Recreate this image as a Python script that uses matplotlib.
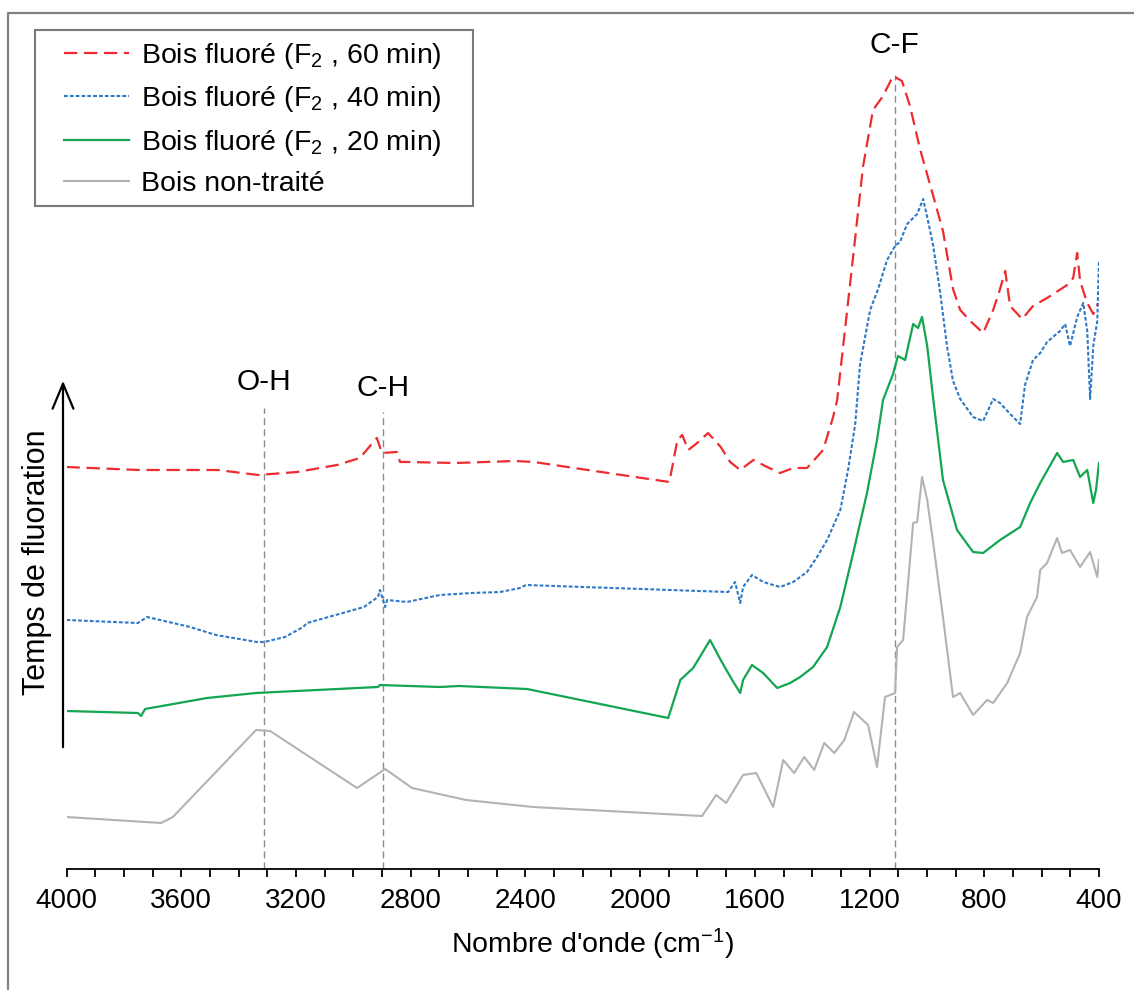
import matplotlib
matplotlib.use("Agg")
import matplotlib.pyplot as plt
from matplotlib.lines import Line2D
from matplotlib.patches import Rectangle, FancyArrowPatch

plt.rcParams['font.family'] = ['Liberation Sans', 'DejaVu Sans']
plt.rcParams['mathtext.fontset'] = 'custom'
plt.rcParams['mathtext.rm'] = 'Liberation Sans'
plt.rcParams['mathtext.it'] = 'Liberation Sans:italic'

# spectra (wavenumber in cm-1, offset absorbance in a.u.)
wn_60 = [4000, 3747, 3472, 3332, 3196, 3057, 2977, 2918, 2900, 2848, 2837, 2813, 2645, 2436, 2370, 2230,
         1898, 1870, 1853, 1832, 1801, 1763, 1719, 1686, 1651, 1605, 1557, 1512, 1466, 1418, 1362, 1327,
         1313, 1292, 1257, 1223, 1188, 1153, 1118, 1087, 1059, 1024, 978, 944, 909, 884, 849, 804, 769,
         745, 727, 710, 668, 630, 581, 511, 490, 476, 466, 441, 420, 403]
ab_60 = [4.02, 3.99, 3.99, 3.94, 3.97, 4.04, 4.11, 4.31, 4.16, 4.17, 4.07, 4.07, 4.06, 4.08, 4.07, 4.01,
         3.87, 4.29, 4.34, 4.19, 4.26, 4.36, 4.22, 4.07, 3.99, 4.09, 4.02, 3.96, 4.01, 4.01, 4.19, 4.52,
         4.69, 5.23, 6.13, 7.02, 7.59, 7.73, 7.93, 7.88, 7.63, 7.20, 6.73, 6.38, 5.80, 5.59, 5.48, 5.36, 5.59,
         5.80, 5.98, 5.63, 5.50, 5.63, 5.71, 5.84, 5.91, 6.16, 5.88, 5.66, 5.55, 5.66]

wn_40 = [4000, 3751, 3719, 3569, 3479, 3336, 3311, 3238, 3175, 3161, 2963, 2914, 2907, 2889, 2882, 2813,
         2698, 2586, 2488, 2419, 2398, 1693, 1669, 1651, 1641, 1610, 1571, 1512, 1466, 1418, 1383, 1348,
         1302, 1275, 1250, 1233, 1198, 1170, 1139, 1111, 1094, 1069, 1034, 1013, 996, 978, 954, 930, 909,
         884, 839, 804, 769, 745, 710, 675, 658, 630, 605, 581, 536, 518, 501, 476, 455, 441, 431, 420,
         406, 400]
ab_40 = [2.49, 2.46, 2.52, 2.42, 2.34, 2.27, 2.27, 2.32, 2.42, 2.46, 2.62, 2.72, 2.79, 2.62, 2.69, 2.67,
         2.74, 2.76, 2.77, 2.81, 2.84, 2.77, 2.87, 2.66, 2.82, 2.94, 2.87, 2.82, 2.87, 2.97, 3.12, 3.29,
         3.59, 3.99, 4.45, 5.05, 5.59, 5.80, 6.09, 6.23, 6.27, 6.45, 6.55, 6.70, 6.48, 6.23, 5.77, 5.23, 4.88,
         4.70, 4.52, 4.48, 4.70, 4.66, 4.55, 4.45, 4.84, 5.09, 5.16, 5.27, 5.38, 5.45, 5.23, 5.52, 5.66, 5.38,
         4.70, 5.23, 5.48, 6.09]

wn_20 = [4000, 3751, 3740, 3726, 3510, 3339, 2914, 2907, 2698, 2631, 2394, 1902, 1863, 1860, 1815, 1756,
         1719, 1679, 1651, 1641, 1610, 1571, 1522, 1477, 1442, 1397, 1348, 1302, 1257, 1209, 1174, 1153,
         1118, 1101, 1076, 1048, 1031, 1017, 999, 978, 944, 895, 839, 804, 745, 675, 640, 605, 546, 525,
         490, 466, 441, 420, 410, 400]
ab_20 = [1.58, 1.56, 1.53, 1.60, 1.71, 1.76, 1.82, 1.84, 1.82, 1.83, 1.80, 1.51, 1.86, 1.89, 2.01, 2.29,
         2.09, 1.89, 1.76, 1.89, 2.04, 1.96, 1.81, 1.86, 1.92, 2.02, 2.22, 2.62, 3.16, 3.76, 4.29, 4.69,
         4.95, 5.13, 5.09, 5.45, 5.41, 5.52, 5.23, 4.70, 3.89, 3.39, 3.17, 3.16, 3.29, 3.42, 3.66, 3.86, 4.16,
         4.07, 4.09, 3.92, 3.99, 3.66, 3.80, 4.06]

wn_raw = [4000, 3670, 3629, 3339, 3290, 2987, 2889, 2795, 2607, 2373, 1784, 1735, 1700, 1641, 1595, 1536,
          1501, 1463, 1428, 1393, 1358, 1323, 1288, 1254, 1205, 1174, 1146, 1111, 1104, 1083, 1059, 1048,
          1034, 1017, 999, 978, 944, 909, 884, 839, 790, 769, 720, 675, 651, 616, 605, 581, 546, 529, 501,
          466, 431, 406, 400]
ab_raw = [0.52, 0.46, 0.52, 1.39, 1.38, 0.81, 1.00, 0.81, 0.69, 0.62, 0.53, 0.74, 0.66, 0.94, 0.96, 0.62,
          1.09, 0.96, 1.12, 0.99, 1.26, 1.16, 1.29, 1.57, 1.44, 1.02, 1.72, 1.76, 2.22, 2.29, 3.09, 3.46,
          3.47, 3.92, 3.69, 3.26, 2.52, 1.72, 1.76, 1.54, 1.69, 1.66, 1.86, 2.16, 2.52, 2.72, 2.99, 3.06,
          3.31, 3.16, 3.19, 3.02, 3.17, 2.92, 3.09]

labels = ['Bois fluoré (F$_{2}$ , 60 min)', 'Bois fluoré (F$_{2}$ , 40 min)',
          'Bois fluoré (F$_{2}$ , 20 min)', 'Bois non-traité']

# band markers: name, wavenumber, top of the dashed line, label height
bands = ['O-H', 'C-H', 'C-F']
band_wn = [3311, 2896, 1113]
band_top = [4.61, 4.57, 7.94]
band_lbl = [4.87, 4.81, 8.24]

W, H = 1134, 990
fig = plt.figure(figsize=(W / 100, H / 100), dpi=100)
ax = fig.add_axes([66.5 / W, 121 / H, (1099 - 66.5) / W, (869 - 40) / H])

ax.plot(wn_60, ab_60, color='#ee2b2f', lw=1.6, linestyle=(0, (6, 3)), label=labels[0])
ax.plot(wn_40, ab_40, color='#2e78c8', lw=1.5, linestyle=(0, (1.8, 1.0)), label=labels[1])
ax.plot(wn_20, ab_20, color='#12a650', lw=1.6, label=labels[2])
ax.plot(wn_raw, ab_raw, color='#b3b3b3', lw=1.5, label=labels[3])

for name, w, top, ly in zip(bands, band_wn, band_top, band_lbl):
    ax.plot([w, w], [0, top], color='#8c8c8c', lw=1.0, linestyle=(0, (5, 3)), zorder=0)
    ax.text(w, ly, name, ha='center', va='center', fontsize=21.5, clip_on=False)

ax.set_xlim(4000, 400)
ax.set_ylim(0, 8.29)
ax.set_xticks(range(4000, 399, -400))
ax.set_xticks(range(4000, 399, -100), minor=True)
ax.tick_params(axis='x', which='both', direction='out', length=6, width=1.3, labelsize=20, pad=8)
ax.set_yticks([])
for s in ['left', 'top', 'right']:
    ax.spines[s].set_visible(False)
ax.spines['bottom'].set_linewidth(1.3)
ax.set_xlabel("Nombre d'onde (cm$^{-1}$)", fontsize=20.5)
ax.xaxis.set_label_coords((592 - 66.5) / (1099 - 66.5), -0.07)

leg = ax.legend(loc='upper left', bbox_to_anchor=(64 / W, 1 - 41 / H), bbox_transform=fig.transFigure,
                fontsize=20.5, frameon=False, handlelength=2.3, handletextpad=0.42,
                labelspacing=0.47, borderpad=0, borderaxespad=0)
fig.add_artist(Rectangle((35 / W, 1 - 206 / H), 438 / W, 176 / H, transform=fig.transFigure,
                         fill=False, edgecolor='#7a7a7a', lw=1.5))

# time arrow on the left
fig.add_artist(FancyArrowPatch((63 / W, 1 - 750 / H), (63 / W, 1 - 378 / H), transform=fig.transFigure,
                               arrowstyle='->,head_length=0.6,head_width=0.25', mutation_scale=30,
                               lw=1.6, color='black'))
fig.text(37 / W, 1 - 562 / H, 'Temps de fluoration', rotation=90, ha='center', va='center', fontsize=22)

# outer frame (left and top edges visible)
fig.add_artist(Line2D([8 / W, 8 / W, 1], [0, 1 - 13 / H, 1 - 13 / H], transform=fig.transFigure,
                      color='#808080', lw=1.6))

fig.savefig('out.png', dpi=100)
